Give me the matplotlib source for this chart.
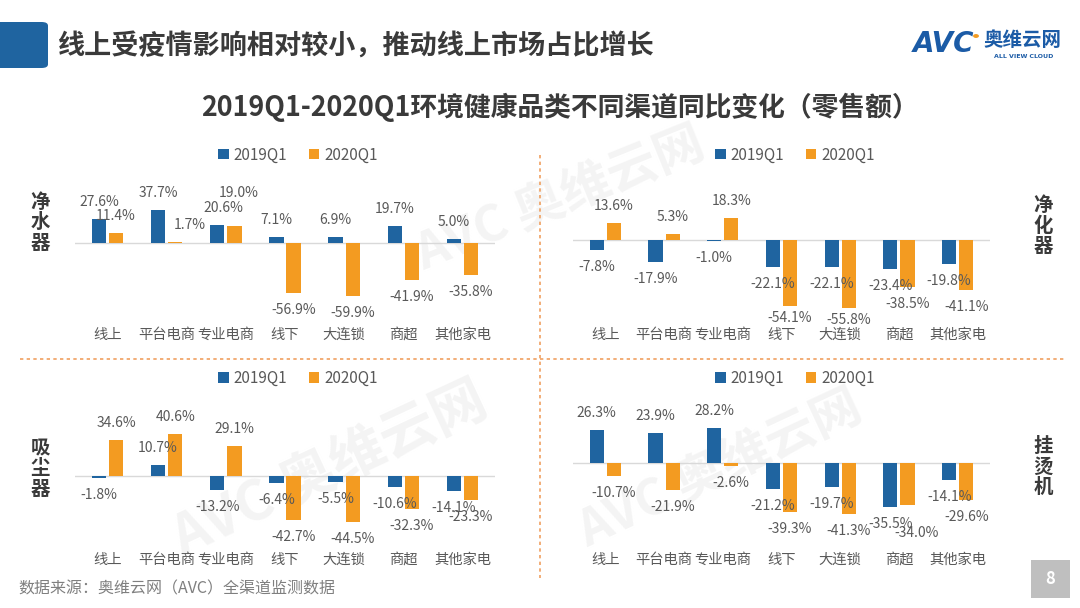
import matplotlib
matplotlib.use('Agg')
import matplotlib.pyplot as plt
from matplotlib.patches import FancyBboxPatch, Rectangle
from matplotlib.lines import Line2D

plt.rcParams['font.family'] = ['Noto Sans CJK SC', 'DejaVu Sans']

# Data
channels = ['线上', '平台电商', '专业电商', '线下', '大连锁', '商超', '其他家电']
series_names = ['2019Q1', '2020Q1']

water_2019 = [27.6, 37.7, 20.6, 7.1, 6.9, 19.7, 5.0]
water_2020 = [11.4, 1.7, 19.0, -56.9, -59.9, -41.9, -35.8]

purifier_2019 = [-7.8, -17.9, -1.0, -22.1, -22.1, -23.4, -19.8]
purifier_2020 = [13.6, 5.3, 18.3, -54.1, -55.8, -38.5, -41.1]

vacuum_2019 = [-1.8, 10.7, -13.2, -6.4, -5.5, -10.6, -14.1]
vacuum_2020 = [34.6, 40.6, 29.1, -42.7, -44.5, -32.3, -23.3]

steamer_2019 = [26.3, 23.9, 28.2, -21.2, -19.7, -35.5, -14.1]
steamer_2020 = [-10.7, -21.9, -2.6, -39.3, -41.3, -34.0, -29.6]

BLUE = '#1F64A0'
ORANGE = '#F39B21'
TXT = '#595959'

# hand-moved data labels, as in the original: (panel, series, channel) -> (dx, dy) in px
label_nudge = {
    (0, 1, 1): (14, 0),
    (0, 1, 2): (4, 16),
    (0, 0, 2): (6, 0),
    (1, 1, 3): (0, 5),
    (1, 1, 4): (0, 5),
    (3, 1, 5): (9, -11),
}

W, H = 1080, 608
fig = plt.figure(figsize=(W / 100, H / 100), dpi=100)


def fx(px):
    return px / W


def fy(py):
    return 1 - py / H


# watermarks (behind everything)
for (x, y, s, r) in [(560, 200, 36, 22), (330, 470, 40, 25), (720, 470, 36, 25)]:
    fig.text(fx(x), fy(y), 'AVC 奥维云网', fontsize=s, fontweight='bold', color='#F4F4F4',
             rotation=r, ha='center', va='center', zorder=-5)

# header
fig.patches.append(FancyBboxPatch((fx(-10), fy(68)), fx(58), 46 / H, boxstyle='round,pad=0,rounding_size=0.006',
                                  transform=fig.transFigure, facecolor='#1F64A0', edgecolor='none'))
fig.text(fx(57), fy(46), '线上受疫情影响相对较小，推动线上市场占比增长', fontsize=19.5, fontweight='bold',
         color='#3A3A3A', va='center', ha='left')
fig.text(fx(560), fy(107), '2019Q1-2020Q1环境健康品类不同渠道同比变化（零售额）', fontsize=19.3, fontweight='bold',
         color='#3A3A3A', va='center', ha='center')

# logo
fig.text(fx(913), fy(44), 'AVC', fontsize=20, fontweight='bold', fontstyle='italic', color='#1B5BA6',
         va='center', ha='left', family='DejaVu Sans')
fig.text(fx(983), fy(41), '奥维云网', fontsize=14, fontweight='bold', color='#1B5BA6', va='center', ha='left')
fig.text(fx(1024), fy(56), 'ALL VIEW CLOUD', fontsize=4.5, fontweight='bold', color='#1B5BA6',
         va='center', ha='center', family='DejaVu Sans')
fig.patches.append(plt.Circle((fx(976), fy(36)), 2.2 / W, transform=fig.transFigure, color=ORANGE))

# dashed separators
fig.add_artist(Line2D([fx(20), fx(1064)], [fy(359), fy(359)], color='#F0A060', lw=1.2,
                      linestyle=(0, (2, 2)), transform=fig.transFigure))
fig.add_artist(Line2D([fx(540), fx(540)], [fy(155), fy(578)], color='#F0A060', lw=1.2,
                      linestyle=(0, (2, 2)), transform=fig.transFigure))

panels = [
    # 2019, 2020, left, right, top, bottom, zero line y, px per %, legend centre, side label, side x, side y
    (water_2019, water_2020, 75, 495, 170, 325, 243, 0.88, (298, 155), '净水器', 40, 223),
    (purifier_2019, purifier_2020, 573, 990, 170, 325, 240, 1.22, (795, 155), '净化器', 1043, 226),
    (vacuum_2019, vacuum_2020, 75, 495, 400, 550, 476, 1.03, (298, 378), '吸尘器', 40, 469),
    (steamer_2019, steamer_2020, 573, 990, 400, 550, 463, 1.24, (795, 378), '挂烫机', 1043, 467),
]

x = list(range(len(channels)))
bw = 0.24
off = 0.145

for p, (v19, v20, l, r, t, b, z, k, leg, side, sx, sy) in enumerate(panels):
    ax = fig.add_axes([fx(l), fy(b), fx(r - l), (b - t) / H])
    ax.set_xlim(-0.55, 6.55)
    ax.set_ylim(-(b - z) / k, (z - t) / k)
    ax.patch.set_alpha(0)
    b1 = ax.bar([i - off for i in x], v19, width=bw, color=BLUE, label=series_names[0], zorder=3)
    b2 = ax.bar([i + off for i in x], v20, width=bw, color=ORANGE, label=series_names[1], zorder=3)
    ax.axhline(0, color='#D9D9D9', lw=1, zorder=2)
    for s_i, (bars, vals) in enumerate(((b1, v19), (b2, v20))):
        for c_i, (rect, v) in enumerate(zip(bars, vals)):
            cx = rect.get_x() + rect.get_width() / 2
            dx, dy = label_nudge.get((p, s_i, c_i), (0, 0))
            base = 17 if v >= 0 else -17
            ax.annotate(f'{v:.1f}%', (cx, v), xytext=(dx * 0.72, (base + dy) * 0.72),
                        textcoords='offset points', ha='center', va='center', fontsize=10,
                        color=TXT, zorder=4)
    ax.set_xticks(x)
    ax.set_xticklabels(channels, fontsize=10.3, color=TXT)
    ax.tick_params(axis='x', length=0, pad=2)
    ax.set_yticks([])
    for s in ax.spines.values():
        s.set_visible(False)
    ax.legend(loc='center', bbox_to_anchor=(fx(leg[0]), fy(leg[1])), bbox_transform=fig.transFigure,
              ncol=2, frameon=False, fontsize=11, handlelength=0.7, handleheight=0.7,
              handletextpad=0.3, columnspacing=1.4, labelcolor=TXT)
    fig.text(fx(sx), fy(sy), '\n'.join(side), fontsize=14, fontweight='bold', color='#3A3A3A',
             ha='center', va='center', linespacing=1.1)

# footer
fig.text(fx(18), fy(589), '数据来源：奥维云网（AVC）全渠道监测数据', fontsize=11.5, color='#7F7F7F',
         ha='left', va='center')
fig.patches.append(Rectangle((fx(1031), fy(598)), fx(39), 38 / H, transform=fig.transFigure,
                             facecolor='#BFBFBF', edgecolor='none'))
fig.text(fx(1050), fy(579), '8', fontsize=12, fontweight='bold', color='white', ha='center', va='center')

fig.savefig('out.png', dpi=100)
